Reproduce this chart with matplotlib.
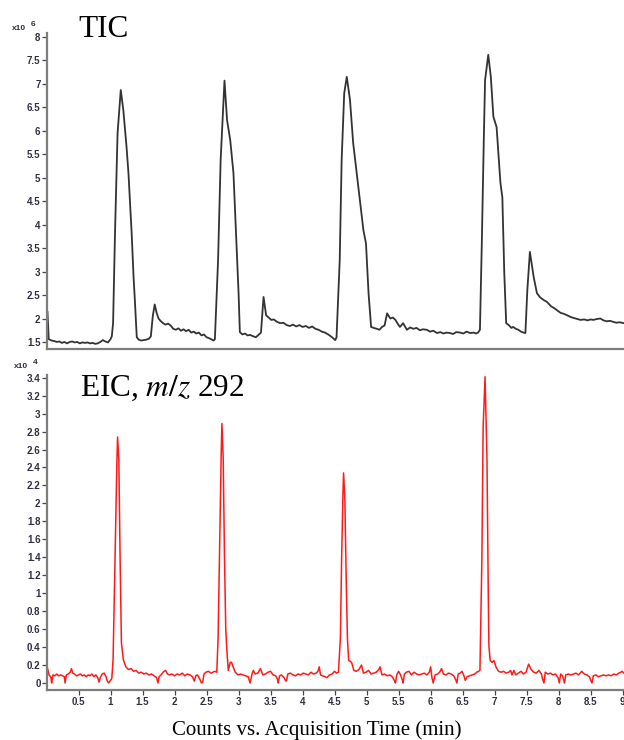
import numpy as np
import matplotlib
matplotlib.use("Agg")
import matplotlib.pyplot as plt

# Total ion chromatogram (counts x10^6) vs. acquisition time (min)
tic_time = [
    0.00, 0.015, 0.035, 0.08, 0.12, 0.16, 0.20, 0.24, 0.28, 0.32,
    0.36, 0.40, 0.44, 0.48, 0.52, 0.56, 0.60, 0.64, 0.68, 0.72,
    0.76, 0.80, 0.84, 0.88, 0.92, 0.96, 1.00, 1.02, 1.04, 1.07,
    1.11, 1.16, 1.20, 1.25, 1.28, 1.33, 1.36, 1.38, 1.41, 1.44,
    1.48, 1.52, 1.56, 1.60, 1.63, 1.66, 1.69, 1.72, 1.75, 1.78,
    1.82, 1.86, 1.90, 1.94, 1.98, 2.02, 2.06, 2.10, 2.14, 2.18,
    2.22, 2.26, 2.30, 2.34, 2.38, 2.42, 2.46, 2.50, 2.54, 2.58,
    2.61, 2.63, 2.68, 2.72, 2.78, 2.82, 2.87, 2.92, 2.96, 3.00,
    3.02, 3.06, 3.10, 3.14, 3.18, 3.23, 3.27, 3.31, 3.35, 3.39,
    3.43, 3.47, 3.51, 3.55, 3.60, 3.65, 3.70, 3.75, 3.80, 3.85,
    3.90, 3.95, 4.00, 4.05, 4.10, 4.15, 4.20, 4.25, 4.30, 4.35,
    4.40, 4.46, 4.51, 4.53, 4.58, 4.61, 4.65, 4.69, 4.74, 4.79,
    4.87, 4.95, 4.99, 5.03, 5.07, 5.11, 5.16, 5.20, 5.24, 5.28,
    5.32, 5.37, 5.41, 5.45, 5.49, 5.52, 5.57, 5.63, 5.68, 5.73,
    5.78, 5.83, 5.88, 5.94, 5.99, 6.04, 6.10, 6.15, 6.20, 6.25,
    6.30, 6.35, 6.40, 6.46, 6.51, 6.56, 6.62, 6.67, 6.71, 6.74,
    6.77, 6.80, 6.83, 6.85, 6.90, 6.94, 6.98, 7.03, 7.09, 7.12,
    7.15, 7.18, 7.22, 7.26, 7.29, 7.33, 7.37, 7.41, 7.45, 7.48,
    7.51, 7.55, 7.61, 7.66, 7.71, 7.76, 7.82, 7.88, 7.93, 7.97,
    8.03, 8.08, 8.13, 8.19, 8.24, 8.29, 8.34, 8.40, 8.45, 8.50,
    8.54, 8.60, 8.65, 8.70, 8.75, 8.80, 8.85, 8.90, 8.95, 9.02,
]
tic_counts = [
    1.60, 2.15, 1.56, 1.53, 1.52, 1.50, 1.51, 1.48, 1.50, 1.47,
    1.50, 1.51, 1.49, 1.50, 1.47, 1.49, 1.48, 1.49, 1.47, 1.48,
    1.46, 1.47, 1.50, 1.54, 1.51, 1.49, 1.56, 1.62, 1.90, 3.82,
    5.95, 6.87, 6.44, 5.66, 5.10, 3.82, 2.88, 2.39, 1.60, 1.55,
    1.53, 1.54, 1.55, 1.57, 1.62, 2.05, 2.30, 2.12, 2.00, 1.95,
    1.90, 1.87, 1.89, 1.85, 1.78, 1.76, 1.79, 1.74, 1.77, 1.73,
    1.76, 1.70, 1.72, 1.68, 1.70, 1.64, 1.66, 1.60, 1.58, 1.55,
    1.53, 1.56, 3.25, 5.38, 7.07, 6.23, 5.80, 5.10, 3.82, 2.54,
    1.71, 1.66, 1.68, 1.64, 1.65, 1.62, 1.60, 1.65, 1.70, 2.46,
    2.07, 2.02, 1.97, 1.98, 1.93, 1.90, 1.91, 1.86, 1.84, 1.87,
    1.83, 1.86, 1.82, 1.84, 1.80, 1.83, 1.78, 1.76, 1.72, 1.70,
    1.66, 1.60, 1.54, 1.60, 3.25, 5.38, 6.80, 7.15, 6.66, 5.74,
    4.80, 3.88, 3.60, 2.54, 1.82, 1.80, 1.78, 1.76, 1.82, 1.85,
    2.11, 2.00, 2.02, 1.97, 1.88, 1.82, 1.90, 1.76, 1.81, 1.78,
    1.80, 1.75, 1.77, 1.76, 1.72, 1.74, 1.69, 1.71, 1.68, 1.70,
    1.69, 1.67, 1.71, 1.70, 1.68, 1.72, 1.69, 1.70, 1.68, 1.70,
    1.76, 3.67, 5.80, 7.08, 7.62, 7.15, 6.30, 6.08, 4.89, 4.58,
    2.97, 1.90, 1.86, 1.80, 1.82, 1.78, 1.76, 1.72, 1.70, 1.69,
    2.60, 3.42, 2.88, 2.54, 2.45, 2.40, 2.35, 2.26, 2.22, 2.18,
    2.12, 2.10, 2.07, 2.03, 2.01, 1.99, 1.97, 1.98, 1.96, 1.98,
    1.97, 1.99, 2.00, 1.96, 1.94, 1.95, 1.93, 1.91, 1.92, 1.90,
]

# Extracted ion chromatogram, m/z 292 (counts x10^4)
eic_time = [
    0.00, 0.01, 0.04, 0.07, 0.08, 0.10, 0.13, 0.16, 0.19, 0.22,
    0.25, 0.28, 0.29, 0.31, 0.34, 0.37, 0.39, 0.41, 0.44, 0.47,
    0.50, 0.53, 0.56, 0.59, 0.62, 0.65, 0.68, 0.71, 0.74, 0.77,
    0.80, 0.82, 0.84, 0.87, 0.90, 0.93, 0.95, 0.97, 0.99, 1.02,
    1.04, 1.07, 1.10, 1.11, 1.13, 1.15, 1.17, 1.20, 1.24, 1.28,
    1.32, 1.36, 1.40, 1.44, 1.48, 1.52, 1.56, 1.60, 1.64, 1.68,
    1.72, 1.74, 1.76, 1.79, 1.82, 1.86, 1.89, 1.92, 1.96, 2.00,
    2.04, 2.08, 2.12, 2.16, 2.20, 2.24, 2.28, 2.31, 2.33, 2.36,
    2.39, 2.42, 2.44, 2.46, 2.49, 2.53, 2.57, 2.60, 2.63, 2.66,
    2.68, 2.71, 2.73, 2.74, 2.76, 2.78, 2.80, 2.82, 2.84, 2.87,
    2.89, 2.92, 2.95, 2.99, 3.03, 3.07, 3.11, 3.15, 3.18, 3.21,
    3.23, 3.26, 3.30, 3.34, 3.38, 3.42, 3.46, 3.50, 3.54, 3.58,
    3.61, 3.62, 3.64, 3.67, 3.71, 3.74, 3.75, 3.77, 3.81, 3.85,
    3.89, 3.93, 3.97, 4.01, 4.05, 4.09, 4.13, 4.17, 4.21, 4.24,
    4.26, 4.28, 4.31, 4.35, 4.38, 4.42, 4.46, 4.50, 4.53, 4.56,
    4.59, 4.61, 4.63, 4.64, 4.66, 4.68, 4.70, 4.72, 4.75, 4.77,
    4.80, 4.84, 4.88, 4.92, 4.95, 4.99, 5.03, 5.07, 5.11, 5.15,
    5.19, 5.21, 5.24, 5.28, 5.32, 5.36, 5.40, 5.44, 5.45, 5.47,
    5.50, 5.53, 5.56, 5.57, 5.59, 5.62, 5.66, 5.70, 5.74, 5.78,
    5.82, 5.86, 5.90, 5.94, 5.98, 6.00, 6.02, 6.04, 6.07, 6.11,
    6.14, 6.17, 6.20, 6.24, 6.28, 6.32, 6.36, 6.39, 6.41, 6.43,
    6.46, 6.49, 6.52, 6.54, 6.57, 6.61, 6.65, 6.69, 6.72, 6.75,
    6.77, 6.80, 6.82, 6.85, 6.88, 6.90, 6.91, 6.93, 6.96, 6.99,
    7.02, 7.06, 7.10, 7.14, 7.18, 7.22, 7.25, 7.27, 7.30, 7.33,
    7.37, 7.41, 7.45, 7.49, 7.53, 7.57, 7.61, 7.65, 7.69, 7.73,
    7.75, 7.77, 7.79, 7.83, 7.87, 7.91, 7.95, 7.99, 8.01, 8.03,
    8.06, 8.09, 8.11, 8.15, 8.19, 8.23, 8.27, 8.31, 8.36, 8.40,
    8.44, 8.48, 8.50, 8.52, 8.54, 8.58, 8.62, 8.66, 8.70, 8.74,
    8.78, 8.82, 8.86, 8.90, 8.94, 8.97, 8.99, 9.02,
]
eic_counts = [
    0.12, 0.18, 0.09, 0.06, 0.00, 0.09, 0.08, 0.10, 0.08, 0.09,
    0.08, 0.07, 0.00, 0.09, 0.10, 0.12, 0.16, 0.11, 0.10, 0.08,
    0.09, 0.10, 0.08, 0.09, 0.07, 0.09, 0.08, 0.10, 0.07, 0.09,
    0.06, 0.01, 0.06, 0.10, 0.11, 0.07, 0.02, 0.00, 0.02, 0.05,
    0.26, 1.37, 2.48, 2.74, 2.48, 1.37, 0.45, 0.26, 0.18, 0.15,
    0.16, 0.13, 0.14, 0.11, 0.12, 0.10, 0.11, 0.09, 0.10, 0.08,
    0.06, 0.00, 0.07, 0.09, 0.12, 0.14, 0.10, 0.09, 0.10, 0.08,
    0.10, 0.09, 0.11, 0.08, 0.10, 0.09, 0.07, 0.02, 0.08, 0.09,
    0.05, 0.00, 0.01, 0.10, 0.12, 0.13, 0.11, 0.12, 0.13, 0.12,
    0.50, 1.80, 2.60, 2.89, 2.50, 1.40, 0.60, 0.33, 0.14, 0.23,
    0.23, 0.17, 0.12, 0.09, 0.10, 0.09, 0.08, 0.07, 0.00, 0.10,
    0.14, 0.10, 0.11, 0.16, 0.09, 0.10, 0.12, 0.13, 0.09, 0.08,
    0.04, 0.00, 0.08, 0.09, 0.06, 0.02, 0.03, 0.10, 0.11, 0.09,
    0.08, 0.10, 0.09, 0.11, 0.10, 0.09, 0.12, 0.10, 0.11, 0.13,
    0.18, 0.09, 0.08, 0.07, 0.06, 0.09, 0.10, 0.13, 0.11, 0.12,
    0.50, 1.40, 2.10, 2.34, 2.05, 1.20, 0.50, 0.25, 0.24, 0.22,
    0.14, 0.13, 0.15, 0.20, 0.11, 0.12, 0.14, 0.10, 0.11, 0.12,
    0.15, 0.18, 0.09, 0.10, 0.08, 0.09, 0.07, 0.02, 0.00, 0.09,
    0.13, 0.09, 0.03, 0.00, 0.10, 0.12, 0.13, 0.09, 0.12, 0.10,
    0.09, 0.10, 0.11, 0.09, 0.12, 0.18, 0.06, 0.00, 0.09, 0.10,
    0.12, 0.16, 0.10, 0.09, 0.11, 0.10, 0.08, 0.04, 0.00, 0.10,
    0.11, 0.13, 0.08, 0.03, 0.07, 0.08, 0.09, 0.10, 0.12, 0.13,
    0.14, 1.37, 2.85, 3.41, 2.48, 1.00, 0.41, 0.25, 0.23, 0.25,
    0.18, 0.13, 0.12, 0.13, 0.11, 0.12, 0.14, 0.09, 0.14, 0.09,
    0.11, 0.13, 0.10, 0.12, 0.21, 0.15, 0.12, 0.11, 0.14, 0.10,
    0.04, 0.00, 0.12, 0.10, 0.11, 0.09, 0.10, 0.06, 0.00, 0.10,
    0.08, 0.00, 0.09, 0.10, 0.09, 0.10, 0.11, 0.09, 0.13, 0.10,
    0.09, 0.07, 0.03, 0.00, 0.08, 0.09, 0.07, 0.08, 0.09, 0.08,
    0.09, 0.08, 0.10, 0.09, 0.11, 0.12, 0.13, 0.11,
]

tic_yticks = [1.5, 2, 2.5, 3, 3.5, 4, 4.5, 5, 5.5, 6, 6.5, 7, 7.5, 8]
eic_yticks = [0, 0.2, 0.4, 0.6, 0.8, 1, 1.2, 1.4, 1.6, 1.8, 2, 2.2, 2.4,
              2.6, 2.8, 3, 3.2, 3.4]
time_ticks = [0.5, 1, 1.5, 2, 2.5, 3, 3.5, 4, 4.5, 5, 5.5, 6, 6.5, 7,
              7.5, 8, 8.5, 9]

W, H = 624, 740
fig = plt.figure(figsize=(W / 100, H / 100), dpi=100)


def box(left, top, right, bottom):
    return [left / W, 1 - bottom / H, (right - left) / W, (bottom - top) / H]


SANS = "Liberation Sans"
SERIF = "Liberation Serif"
SPINE = "#7d7d7d"
TICKTXT = "#2e3040"

ax1 = fig.add_axes(box(46.5, 33, 624, 349))
ax2 = fig.add_axes(box(46.5, 375, 624, 690))

ax1.plot(tic_time, tic_counts, color="#333333", lw=1.3)
ax2.plot(eic_time, eic_counts, color="#ff1a1a", lw=1.1)

ax1.set_ylim(1.35, 8.085)
ax2.set_ylim(-0.078, 3.43)

for ax, yt in ((ax1, tic_yticks), (ax2, eic_yticks)):
    ax.set_xlim(0, 9.02)
    for s in ("top", "right"):
        ax.spines[s].set_visible(False)
    for s in ("left", "bottom"):
        ax.spines[s].set_color(SPINE)
        ax.spines[s].set_linewidth(1.6)
    ax.set_yticks(yt)
    ax.set_yticklabels([f"{v:g}" for v in yt], fontfamily=SANS,
                       fontweight="bold")
    ax.tick_params(axis="y", direction="out", length=3.5, width=0.9,
                   color="#444444", labelsize=7, labelcolor=TICKTXT, pad=0.8)

ax1.tick_params(axis="x", bottom=False, labelbottom=False)
ax2.set_xticks(time_ticks)
ax2.set_xticklabels([f"{v:g}" for v in time_ticks], fontfamily=SANS,
                    fontweight="bold")
ax2.tick_params(axis="x", direction="out", length=3.5, width=0.9,
                color="#444444", labelsize=7, labelcolor=TICKTXT, pad=1.5)


def ftext(x, y, s, **kw):
    return fig.text(x / W, 1 - y / H, s, **kw)


# axis multipliers
mult = dict(fontsize=6, family=SANS, fontweight="bold", color=TICKTXT,
            va="baseline")
ftext(12, 30, "x10", **mult)
ftext(31, 26, "6", **mult)
ftext(14, 368, "x10", **mult)
ftext(33, 364, "4", **mult)

# panel titles
ftext(78, 37, "TIC", fontsize=22.5, family=SERIF, va="baseline")
ftext(80, 396, r"EIC, $\mathit{m/z}$ 292", fontsize=22.5, family=SERIF,
      va="baseline", math_fontfamily="stix")

ftext(316.5, 735, "Counts vs. Acquisition Time (min)", fontsize=15,
      family=SERIF, ha="center", va="baseline")

fig.savefig("out.png", dpi=100)
